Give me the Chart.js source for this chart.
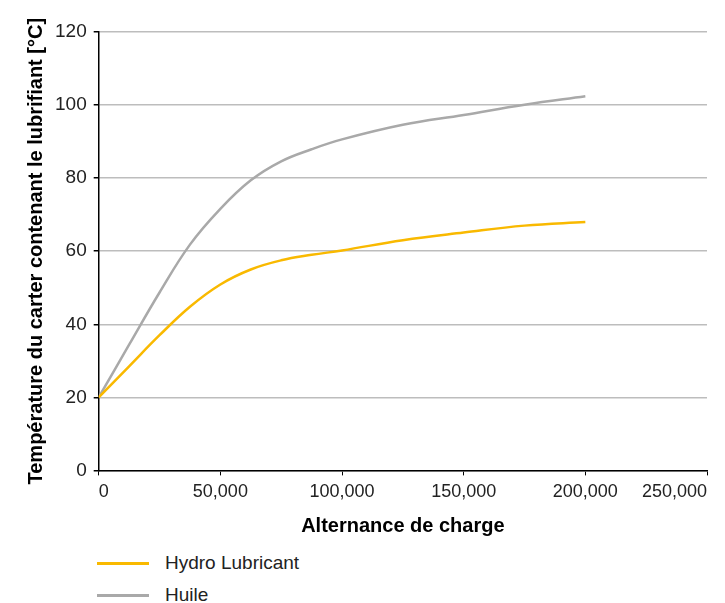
<!DOCTYPE html>
<html>
<head>
<meta charset="utf-8">
<script src="https://cdn.jsdelivr.net/npm/chart.js@4"></script>
<style>
  html, body { margin: 0; padding: 0; background: #fff; }
  #wrap { position: relative; width: 725px; height: 603px; }
  #c { position: absolute; left: 0; top: 0; }
  #legend { position: absolute; left: 97px; top: 547px; font-family: "Liberation Sans", Arial, sans-serif; font-size: 19px; color: #222; }
  .item { display: flex; align-items: center; height: 32px; }
  .swatch { width: 52px; height: 3px; margin-right: 16px; }
</style>
</head>
<body>
<div id="wrap">
  <canvas id="c" width="725" height="542"></canvas>
  <div id="legend"></div>
</div>
<script>
const xValues = [0, 12500, 25000, 37500, 50000, 62500, 75000, 87500, 100000, 125000, 150000, 175000, 200000];
const hydroLubricant = [20, 28.5, 37, 44.8, 50.9, 55, 57.5, 59, 60.2, 63, 65.1, 67, 68];
const huile = [20, 34.4, 48.7, 61.8, 71.6, 79.4, 84.6, 87.9, 90.6, 94.6, 97.3, 100.1, 102.4];
const seriesNames = ["Hydro Lubricant", "Huile"];
const seriesColors = ["#f9b900", "#a9a9a9"];
const xTitle = "Alternance de charge";
const yTitle = "Température du carter contenant le lubrifiant [°C]";

function pts(ys) { return xValues.map((x, i) => ({ x: x, y: ys[i] })); }

const font = "'Liberation Sans', Arial, sans-serif";
const chart = new Chart(document.getElementById('c'), {
  type: 'line',
  data: {
    datasets: [
      { label: seriesNames[0], data: pts(hydroLubricant), borderColor: seriesColors[0], backgroundColor: seriesColors[0], borderWidth: 2.5, pointRadius: 0, tension: 0.4, fill: false },
      { label: seriesNames[1], data: pts(huile), borderColor: seriesColors[1], backgroundColor: seriesColors[1], borderWidth: 2.5, pointRadius: 0, tension: 0.4, fill: false }
    ]
  },
  options: {
    responsive: false,
    animation: false,
    layout: { padding: { top: 32, left: 24, right: 18, bottom: 4 } },
    plugins: { legend: { display: false }, tooltip: { enabled: false } },
    scales: {
      x: {
        type: 'linear', min: 0, max: 250000,
        ticks: { stepSize: 50000, color: '#222', font: { family: font, size: 18 }, padding: 6, maxRotation: 0, align: 'inner' },
        grid: { drawOnChartArea: false, tickColor: '#000', tickLength: 5 },
        border: { color: '#000', width: 1.5 },
        title: { display: true, text: xTitle, color: '#000', font: { family: font, size: 20, weight: 'bold' }, padding: { top: 5, bottom: 0 } }
      },
      y: {
        min: 0, max: 120,
        ticks: { stepSize: 20, color: '#222', font: { family: font, size: 19 }, padding: 7 },
        grid: { color: '#bdbdbd', lineWidth: 1.5, tickColor: '#000', tickLength: 5 },
        border: { color: '#000', width: 1.5 },
        title: { display: true, text: yTitle, color: '#000', font: { family: font, size: 20, weight: 'bold' }, padding: { top: 0, bottom: 0 } }
      }
    }
  }
});

const leg = document.getElementById('legend');
chart.data.datasets.forEach(ds => {
  const it = document.createElement('div'); it.className = 'item';
  const sw = document.createElement('span'); sw.className = 'swatch'; sw.style.background = ds.borderColor;
  const tx = document.createElement('span'); tx.textContent = ds.label;
  it.appendChild(sw); it.appendChild(tx); leg.appendChild(it);
});
</script>
</body>
</html>
